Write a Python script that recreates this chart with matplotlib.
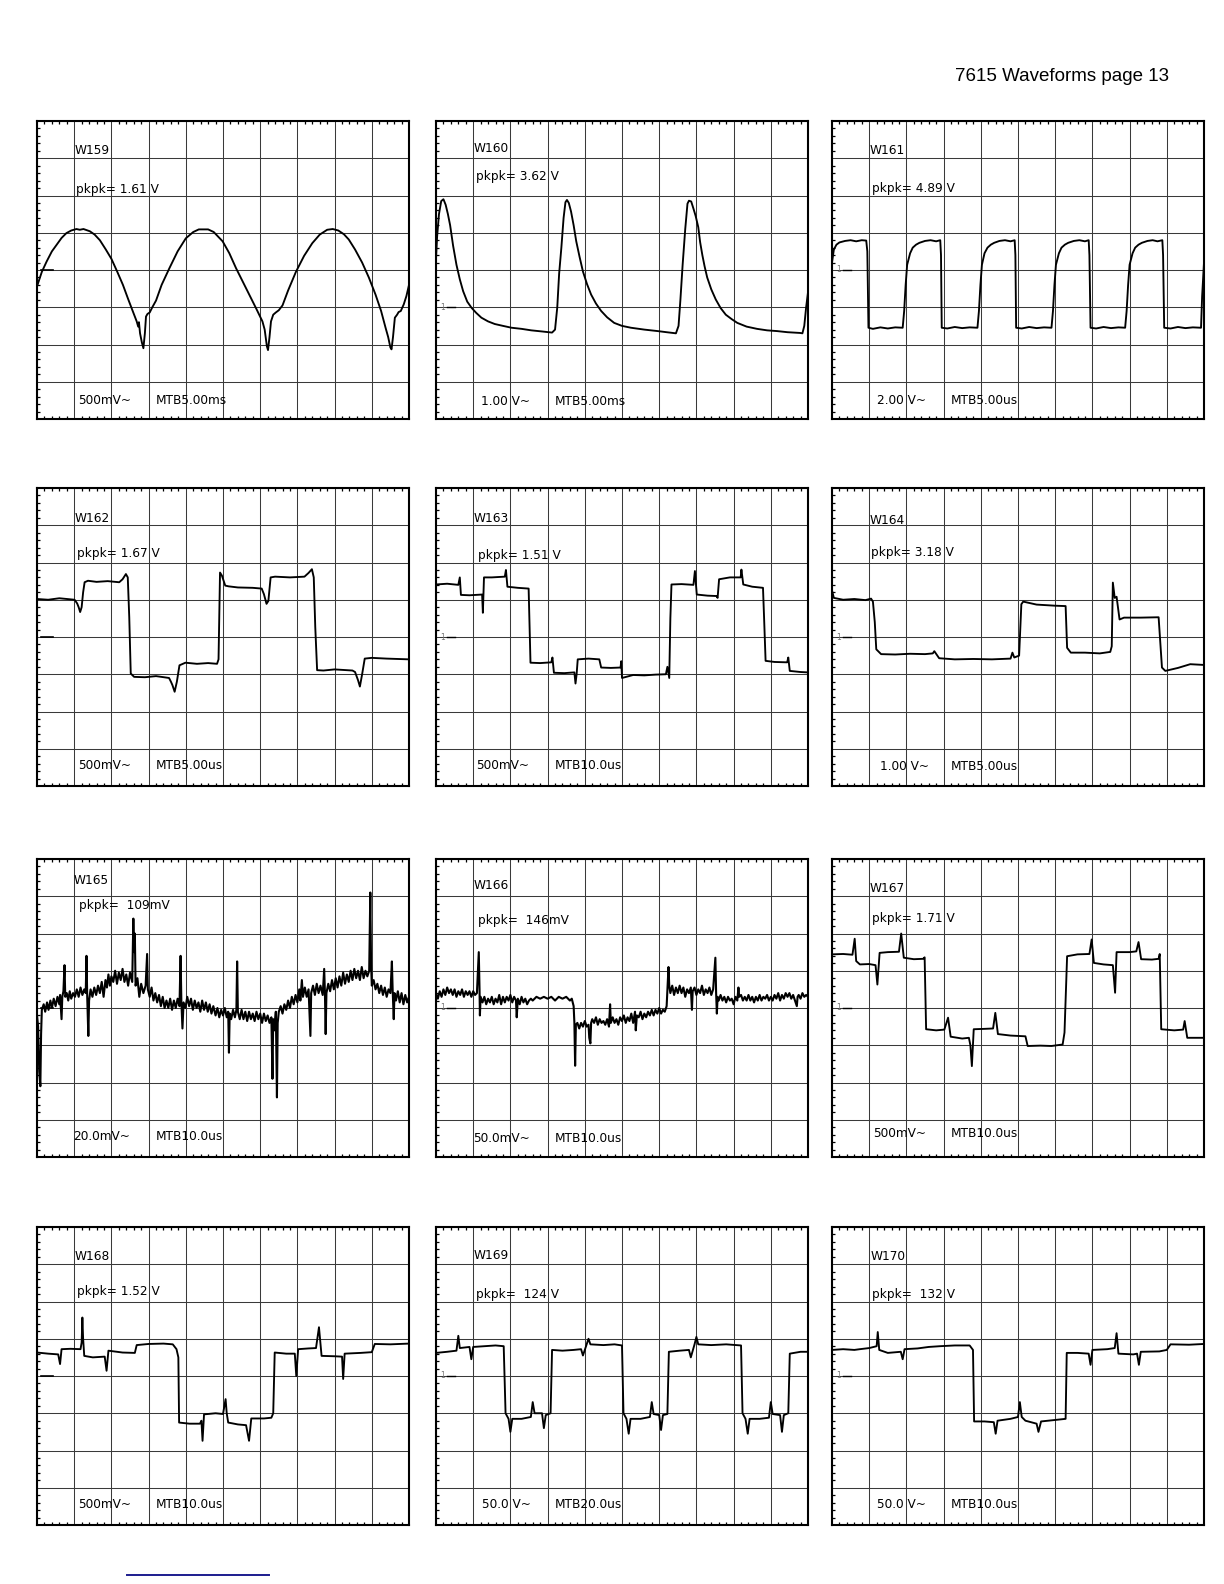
import matplotlib
matplotlib.use("Agg")
import matplotlib.pyplot as plt
from matplotlib.lines import Line2D
from matplotlib.ticker import MultipleLocator

# ---- scope captures, in screen divisions (x 0..10, y 0..8) ----
W159 = [(0, 3.56), (0.13, 3.95), (0.26, 4.23), (0.4, 4.5), (0.53, 4.68), (0.66, 4.86), (0.79, 4.99),
        (0.92, 5.06), (1.06, 5.1), (1.15, 5.08), (1.25, 5.1), (1.42, 5.04), (1.55, 4.95), (1.69, 4.8),
        (1.85, 4.55), (2.0, 4.3), (2.15, 3.97), (2.31, 3.6), (2.45, 3.22), (2.58, 2.88), (2.68, 2.62),
        (2.72, 2.48), (2.74, 2.6), (2.77, 2.3), (2.82, 2.05), (2.86, 1.9), (2.9, 2.3), (2.93, 2.75),
        (2.97, 2.82), (3.03, 2.86), (3.1, 3.0), (3.2, 3.18), (3.35, 3.6), (3.56, 4.05), (3.78, 4.5),
        (4.0, 4.85), (4.2, 5.02), (4.35, 5.09), (4.6, 5.09), (4.75, 5.02), (4.99, 4.77), (5.17, 4.45),
        (5.35, 4.05), (5.55, 3.65), (5.75, 3.25), (5.9, 2.95), (6.06, 2.62), (6.12, 2.4), (6.18, 1.95),
        (6.21, 1.85), (6.25, 2.2), (6.29, 2.62), (6.35, 2.8), (6.42, 2.86), (6.5, 2.92), (6.6, 3.05),
        (6.75, 3.45), (6.96, 3.95), (7.18, 4.38), (7.4, 4.72), (7.6, 4.95), (7.8, 5.08), (7.95, 5.1),
        (8.1, 5.06), (8.25, 4.96), (8.38, 4.82), (8.55, 4.55), (8.74, 4.2), (8.92, 3.8), (9.1, 3.34),
        (9.25, 2.9), (9.37, 2.45), (9.44, 2.2), (9.5, 1.92), (9.53, 1.87), (9.57, 2.2), (9.62, 2.72),
        (9.68, 2.8), (9.72, 2.87), (9.78, 2.9), (9.86, 3.08), (9.93, 3.3), (10.0, 3.6)]

W160 = [(0.0, 4.3), (0.03, 4.9), (0.08, 5.5), (0.14, 5.85), (0.2, 5.9), (0.26, 5.75), (0.32, 5.5),
        (0.38, 5.2), (0.46, 4.65), (0.55, 4.14), (0.64, 3.75), (0.73, 3.43), (0.84, 3.15), (0.96, 2.98),
        (1.08, 2.85), (1.22, 2.72), (1.4, 2.62), (1.58, 2.55), (1.8, 2.5), (2.03, 2.45), (2.3, 2.42),
        (2.56, 2.38), (2.85, 2.35), (3.12, 2.32), (3.2, 2.4), (3.26, 3.0), (3.31, 3.9), (3.37, 4.6),
        (3.43, 5.4), (3.48, 5.82), (3.52, 5.88), (3.57, 5.8), (3.63, 5.57), (3.7, 5.2), (3.77, 4.77),
        (3.86, 4.35), (3.95, 3.96), (4.06, 3.62), (4.17, 3.34), (4.3, 3.1), (4.44, 2.9), (4.6, 2.73),
        (4.79, 2.58), (5.0, 2.5), (5.24, 2.45), (5.6, 2.4), (5.96, 2.36), (6.2, 2.33), (6.45, 2.3),
        (6.52, 2.5), (6.57, 3.2), (6.63, 4.14), (6.7, 5.1), (6.76, 5.78), (6.8, 5.86), (6.86, 5.84),
        (6.92, 5.65), (6.98, 5.45), (7.05, 5.15), (7.1, 4.75), (7.16, 4.4), (7.22, 4.1), (7.29, 3.8),
        (7.4, 3.48), (7.52, 3.21), (7.65, 2.98), (7.79, 2.8), (7.95, 2.68), (8.1, 2.58), (8.35, 2.48),
        (8.63, 2.42), (8.9, 2.38), (9.17, 2.36), (9.45, 2.33), (9.79, 2.31), (9.85, 2.3), (9.9, 2.5),
        (9.95, 3.0), (10.0, 3.4)]

W161 = [(0, 4.2), (0.05, 4.55), (0.12, 4.68), (0.2, 4.74), (0.35, 4.78), (0.5, 4.8), (0.65, 4.77),
        (0.8, 4.8), (0.92, 4.79), (0.95, 4.5), (0.98, 2.45), (1.1, 2.42), (1.3, 2.46), (1.5, 2.43),
        (1.7, 2.46), (1.9, 2.45), (1.94, 2.9), (1.98, 3.6), (2.02, 4.14), (2.1, 4.45), (2.17, 4.6),
        (2.26, 4.68), (2.35, 4.73), (2.5, 4.78), (2.65, 4.8), (2.8, 4.77), (2.91, 4.8), (2.93, 4.4),
        (2.95, 2.45), (3.1, 2.43), (3.3, 2.47), (3.5, 2.44), (3.7, 2.46), (3.91, 2.45), (3.95, 2.9),
        (3.99, 3.6), (4.03, 4.14), (4.1, 4.45), (4.18, 4.6), (4.27, 4.68), (4.36, 4.73), (4.5, 4.78),
        (4.65, 4.8), (4.8, 4.77), (4.91, 4.8), (4.93, 4.4), (4.95, 2.45), (5.1, 2.43), (5.3, 2.47),
        (5.5, 2.44), (5.7, 2.46), (5.9, 2.45), (5.94, 2.9), (5.98, 3.6), (6.02, 4.14), (6.1, 4.45),
        (6.17, 4.6), (6.26, 4.68), (6.35, 4.73), (6.5, 4.78), (6.65, 4.8), (6.8, 4.77), (6.9, 4.8),
        (6.92, 4.4), (6.95, 2.45), (7.1, 2.43), (7.3, 2.47), (7.5, 2.44), (7.7, 2.46), (7.88, 2.45),
        (7.92, 2.9), (7.96, 3.6), (8.0, 4.14), (8.08, 4.45), (8.15, 4.6), (8.24, 4.68), (8.33, 4.73),
        (8.48, 4.78), (8.62, 4.8), (8.75, 4.77), (8.88, 4.8), (8.9, 4.4), (8.93, 2.45), (9.1, 2.43),
        (9.3, 2.47), (9.5, 2.44), (9.7, 2.46), (9.92, 2.45), (9.95, 3.3), (10.0, 4.2)]

W162 = [(0, 5.02), (0.3, 5.0), (0.6, 5.04), (1.01, 5.0), (1.08, 4.9), (1.12, 4.8), (1.16, 4.67),
        (1.2, 4.8), (1.24, 5.2), (1.28, 5.47), (1.37, 5.51), (1.6, 5.48), (1.9, 5.5), (2.21, 5.47),
        (2.3, 5.55), (2.39, 5.69), (2.44, 5.6), (2.48, 4.53), (2.52, 3.02), (2.61, 2.93), (2.9, 2.92),
        (3.2, 2.95), (3.55, 2.9), (3.6, 2.8), (3.64, 2.71), (3.7, 2.53), (3.76, 2.8), (3.83, 3.24),
        (3.99, 3.31), (4.3, 3.28), (4.6, 3.3), (4.84, 3.28), (4.88, 3.4), (4.92, 5.73), (4.97, 5.65),
        (5.06, 5.38), (5.15, 5.36), (5.4, 5.33), (5.8, 5.32), (6.04, 5.3), (6.1, 5.15), (6.17, 4.89),
        (6.22, 4.97), (6.28, 5.6), (6.4, 5.62), (6.8, 5.6), (7.19, 5.62), (7.3, 5.72), (7.39, 5.82),
        (7.44, 5.6), (7.48, 4.27), (7.53, 3.11), (7.7, 3.1), (8.0, 3.13), (8.48, 3.1), (8.55, 3.06),
        (8.63, 2.84), (8.68, 2.67), (8.74, 3.0), (8.81, 3.42), (9.0, 3.44), (9.4, 3.42), (10.0, 3.4)]

W163 = [(0, 5.41), (0.3, 5.43), (0.6, 5.4), (0.64, 5.6), (0.67, 5.13), (0.9, 5.12), (1.24, 5.14),
        (1.26, 4.65), (1.29, 5.6), (1.5, 5.6), (1.85, 5.62), (1.88, 5.8), (1.92, 5.35), (2.2, 5.32),
        (2.49, 5.3), (2.54, 3.31), (2.8, 3.3), (3.1, 3.32), (3.13, 3.45), (3.17, 3.04), (3.45, 3.03),
        (3.72, 3.05), (3.75, 2.75), (3.78, 3.0), (3.81, 3.4), (4.1, 3.42), (4.39, 3.4), (4.44, 3.18),
        (4.7, 3.17), (4.96, 3.18), (4.98, 3.35), (5.0, 2.9), (5.3, 2.98), (5.6, 2.97), (5.9, 2.99),
        (6.18, 3.0), (6.22, 3.2), (6.27, 2.9), (6.3, 4.5), (6.33, 5.41), (6.6, 5.42), (6.92, 5.4),
        (6.96, 5.77), (7.01, 5.14), (7.3, 5.11), (7.54, 5.1), (7.57, 5.05), (7.61, 5.55), (7.9, 5.6),
        (8.19, 5.6), (8.21, 5.81), (8.26, 5.41), (8.5, 5.35), (8.79, 5.32), (8.82, 4.5), (8.86, 3.36),
        (9.1, 3.33), (9.44, 3.32), (9.47, 3.45), (9.51, 3.09), (9.8, 3.06), (10.0, 3.05)]

W164 = [(0, 5.25), (0.05, 5.05), (0.3, 5.0), (0.6, 5.02), (0.9, 4.99), (1.05, 5.03), (1.1, 4.95),
        (1.15, 4.4), (1.19, 3.67), (1.32, 3.54), (1.7, 3.53), (2.1, 3.55), (2.5, 3.54), (2.71, 3.56),
        (2.75, 3.62), (2.88, 3.43), (3.3, 3.4), (3.8, 3.41), (4.3, 3.4), (4.8, 3.42), (4.85, 3.58),
        (4.9, 3.45), (5.03, 3.5), (5.09, 4.88), (5.14, 4.95), (5.5, 4.87), (6.0, 4.84), (6.28, 4.83),
        (6.32, 3.71), (6.42, 3.58), (6.8, 3.58), (7.2, 3.56), (7.48, 3.6), (7.52, 3.75), (7.55, 5.46),
        (7.6, 5.05), (7.65, 5.08), (7.73, 4.47), (7.85, 4.52), (8.3, 4.52), (8.78, 4.53), (8.87, 3.18),
        (8.96, 3.09), (9.3, 3.17), (9.63, 3.27), (10.0, 3.25)]

W165 = [(0.00, 3.80), (0.03, 3.5), (0.06, 2.3), (0.09, 1.9), (0.11, 3.3), (0.13, 3.95), (0.18, 4.1),
        (0.22, 3.9), (0.27, 4.15), (0.31, 3.95), (0.36, 4.2), (0.40, 4.0), (0.45, 4.25), (0.50, 4.05),
        (0.55, 4.3), (0.60, 4.1), (0.62, 4.35), (0.66, 3.7), (0.68, 4.3), (0.71, 4.45), (0.74, 5.15),
        (0.76, 4.3), (0.80, 4.4), (0.84, 4.2), (0.88, 4.45), (0.92, 4.25), (0.97, 4.4), (1.02, 4.3),
        (1.07, 4.5), (1.12, 4.3), (1.17, 4.55), (1.22, 4.35), (1.27, 4.5), (1.31, 4.4), (1.33, 5.4),
        (1.35, 4.3), (1.38, 3.25), (1.40, 4.2), (1.44, 4.5), (1.49, 4.3), (1.54, 4.55), (1.59, 4.35),
        (1.64, 4.6), (1.69, 4.4), (1.74, 4.7), (1.79, 4.3), (1.84, 4.75), (1.88, 4.55), (1.92, 4.9),
        (1.96, 4.6), (2.0, 4.85), (2.05, 4.7), (2.10, 5.0), (2.15, 4.65), (2.2, 4.95), (2.25, 4.75),
        (2.3, 5.05), (2.35, 4.7), (2.4, 4.9), (2.45, 4.6), (2.5, 4.95), (2.56, 4.7), (2.59, 6.4),
        (2.61, 5.5), (2.63, 6.0), (2.65, 4.6), (2.7, 4.8), (2.75, 4.3), (2.8, 4.65), (2.86, 4.4),
        (2.92, 4.6), (2.96, 5.45), (2.98, 4.5), (3.03, 4.3), (3.08, 4.55), (3.13, 4.2), (3.18, 4.4),
        (3.23, 4.15), (3.28, 4.35), (3.33, 4.05), (3.38, 4.3), (3.43, 4.0), (3.48, 4.2), (3.53, 4.0),
        (3.58, 4.25), (3.63, 3.95), (3.68, 4.2), (3.73, 4.0), (3.78, 4.25), (3.83, 4.05), (3.86, 5.4),
        (3.88, 4.2), (3.91, 3.45), (3.94, 4.15), (3.99, 4.0), (4.04, 4.3), (4.09, 4.05), (4.14, 4.25),
        (4.19, 3.95), (4.24, 4.2), (4.29, 4.0), (4.34, 4.15), (4.39, 3.9), (4.44, 4.2), (4.49, 3.95),
        (4.54, 4.15), (4.59, 3.9), (4.64, 4.1), (4.69, 3.85), (4.74, 4.05), (4.8, 3.8), (4.85, 4.0),
        (4.9, 3.75), (4.95, 3.95), (5.0, 3.8), (5.05, 4.0), (5.1, 3.75), (5.14, 3.9), (5.16, 2.8),
        (5.18, 3.85), (5.22, 3.7), (5.27, 3.95), (5.32, 3.75), (5.36, 3.95), (5.38, 5.25), (5.40, 3.9),
        (5.45, 3.7), (5.5, 3.95), (5.55, 3.7), (5.6, 3.9), (5.65, 3.65), (5.7, 3.9), (5.75, 3.7),
        (5.8, 3.85), (5.85, 3.65), (5.9, 3.9), (5.95, 3.7), (6.0, 3.85), (6.05, 3.6), (6.1, 3.85),
        (6.15, 3.65), (6.2, 3.8), (6.25, 3.6), (6.3, 3.75), (6.33, 2.1), (6.35, 3.7), (6.38, 3.4),
        (6.42, 3.9), (6.45, 1.6), (6.47, 3.6), (6.5, 3.9), (6.55, 4.05), (6.6, 3.85), (6.65, 4.1),
        (6.7, 3.95), (6.75, 4.2), (6.8, 4.0), (6.85, 4.3), (6.9, 4.1), (6.95, 4.35), (7.0, 4.15),
        (7.05, 4.5), (7.08, 4.2), (7.12, 4.75), (7.15, 4.3), (7.2, 4.55), (7.25, 4.3), (7.3, 4.5),
        (7.35, 3.25), (7.37, 4.4), (7.42, 4.6), (7.47, 4.35), (7.52, 4.65), (7.57, 4.4), (7.62, 4.6),
        (7.68, 4.35), (7.72, 5.05), (7.74, 4.4), (7.76, 3.3), (7.78, 4.4), (7.83, 4.65), (7.88, 4.45),
        (7.93, 4.75), (7.98, 4.5), (8.03, 4.8), (8.08, 4.55), (8.13, 4.85), (8.18, 4.6), (8.23, 4.95),
        (8.28, 4.65), (8.33, 4.9), (8.38, 4.7), (8.43, 5.0), (8.48, 4.75), (8.53, 5.05), (8.58, 4.8),
        (8.63, 5.0), (8.68, 4.75), (8.73, 5.1), (8.78, 4.8), (8.83, 5.0), (8.88, 4.85), (8.93, 5.0),
        (8.96, 7.1), (8.98, 5.2), (9.0, 4.6), (9.05, 4.75), (9.1, 4.5), (9.15, 4.65), (9.2, 4.4),
        (9.25, 4.6), (9.3, 4.35), (9.35, 4.55), (9.4, 4.3), (9.45, 4.5), (9.5, 4.4), (9.54, 5.25),
        (9.56, 4.5), (9.59, 3.7), (9.61, 4.4), (9.65, 4.2), (9.7, 4.45), (9.75, 4.15), (9.8, 4.4),
        (9.85, 4.1), (9.9, 4.35), (9.95, 4.15), (10.0, 4.3)]

W166 = [(0, 4.4), (0.05, 4.25), (0.1, 4.45), (0.15, 4.3), (0.2, 4.5), (0.25, 4.35), (0.3, 4.55),
        (0.35, 4.4), (0.4, 4.5), (0.45, 4.35), (0.5, 4.5), (0.55, 4.3), (0.6, 4.45), (0.65, 4.35),
        (0.7, 4.5), (0.75, 4.3), (0.8, 4.45), (0.85, 4.35), (0.9, 4.45), (0.95, 4.3), (1.0, 4.45),
        (1.05, 4.35), (1.1, 4.4), (1.15, 5.5), (1.17, 4.5), (1.18, 3.8), (1.2, 4.3), (1.25, 4.15),
        (1.3, 4.3), (1.35, 4.1), (1.4, 4.25), (1.45, 4.15), (1.5, 4.3), (1.55, 4.1), (1.6, 4.25),
        (1.65, 4.15), (1.7, 4.35), (1.75, 4.1), (1.8, 4.3), (1.85, 4.15), (1.9, 4.3), (1.95, 4.2),
        (2.0, 4.35), (2.05, 4.15), (2.1, 4.3), (2.15, 4.2), (2.17, 3.75), (2.2, 4.25), (2.25, 4.1),
        (2.3, 4.3), (2.35, 4.15), (2.4, 4.25), (2.45, 4.1), (2.5, 4.2), (2.55, 4.25), (2.6, 4.2),
        (2.7, 4.3), (2.8, 4.25), (2.9, 4.3), (3.0, 4.25), (3.1, 4.3), (3.2, 4.2), (3.3, 4.3),
        (3.4, 4.25), (3.5, 4.3), (3.6, 4.2), (3.65, 4.25), (3.7, 4.05), (3.72, 3.6), (3.74, 2.45),
        (3.76, 3.55), (3.8, 3.6), (3.85, 3.45), (3.9, 3.6), (3.95, 3.5), (4.0, 3.65), (4.05, 3.5),
        (4.1, 3.55), (4.12, 3.2), (4.15, 3.05), (4.17, 3.6), (4.2, 3.7), (4.25, 3.6), (4.3, 3.75),
        (4.35, 3.55), (4.4, 3.7), (4.45, 3.6), (4.5, 3.65), (4.55, 3.55), (4.6, 3.7), (4.65, 3.5),
        (4.68, 4.1), (4.7, 3.6), (4.75, 3.75), (4.8, 3.6), (4.85, 3.7), (4.9, 3.55), (4.95, 3.75),
        (5.0, 3.65), (5.05, 3.8), (5.1, 3.6), (5.15, 3.75), (5.2, 3.65), (5.25, 3.85), (5.3, 3.6),
        (5.35, 3.9), (5.37, 3.4), (5.4, 3.8), (5.45, 3.75), (5.5, 3.9), (5.55, 3.7), (5.6, 3.85),
        (5.65, 3.75), (5.7, 3.9), (5.75, 3.8), (5.8, 3.95), (5.85, 3.8), (5.9, 3.95), (5.95, 3.85),
        (6.0, 4.0), (6.05, 3.85), (6.1, 3.95), (6.15, 3.9), (6.2, 4.05), (6.22, 4.45), (6.25, 5.1),
        (6.27, 4.6), (6.3, 4.4), (6.35, 4.6), (6.4, 4.35), (6.45, 4.55), (6.5, 4.4), (6.55, 4.6),
        (6.6, 4.4), (6.65, 4.55), (6.7, 4.3), (6.75, 4.5), (6.8, 4.4), (6.85, 4.55), (6.88, 3.95),
        (6.9, 4.45), (6.95, 4.55), (7.0, 4.35), (7.05, 4.5), (7.1, 4.4), (7.15, 4.6), (7.2, 4.35),
        (7.25, 4.5), (7.3, 4.4), (7.35, 4.55), (7.4, 4.35), (7.45, 4.5), (7.51, 5.35), (7.53, 4.4),
        (7.55, 3.85), (7.57, 4.3), (7.6, 4.2), (7.65, 4.35), (7.7, 4.2), (7.75, 4.3), (7.8, 4.15),
        (7.85, 4.3), (7.9, 4.2), (7.95, 4.25), (8.0, 4.1), (8.05, 4.3), (8.1, 4.2), (8.13, 4.55),
        (8.15, 4.3), (8.2, 4.35), (8.25, 4.2), (8.3, 4.3), (8.35, 4.2), (8.4, 4.35), (8.45, 4.2),
        (8.5, 4.3), (8.55, 4.15), (8.6, 4.3), (8.65, 4.2), (8.7, 4.35), (8.75, 4.2), (8.8, 4.3),
        (8.85, 4.25), (8.9, 4.35), (8.95, 4.2), (9.0, 4.3), (9.05, 4.2), (9.1, 4.35), (9.15, 4.25),
        (9.2, 4.4), (9.25, 4.2), (9.3, 4.35), (9.35, 4.25), (9.4, 4.4), (9.45, 4.3), (9.5, 4.4),
        (9.55, 4.25), (9.6, 4.35), (9.65, 4.2), (9.7, 4.05), (9.72, 4.3), (9.75, 4.35), (9.8, 4.25),
        (9.85, 4.4), (9.9, 4.3), (9.95, 4.35), (10.0, 4.3)]

W167 = [(0, 5.44), (0.3, 5.45), (0.55, 5.43), (0.61, 5.86), (0.65, 5.26), (0.75, 5.17), (1.0, 5.18),
        (1.17, 5.15), (1.22, 4.63), (1.28, 5.48), (1.5, 5.5), (1.8, 5.51), (1.86, 6.0), (1.93, 5.35),
        (2.2, 5.31), (2.45, 5.32), (2.49, 5.36), (2.53, 3.43), (2.8, 3.4), (3.02, 3.42), (3.12, 3.74),
        (3.19, 3.23), (3.5, 3.18), (3.68, 3.2), (3.72, 3.0), (3.76, 2.44), (3.81, 3.43), (4.1, 3.44),
        (4.33, 3.45), (4.39, 3.87), (4.46, 3.3), (4.8, 3.26), (5.2, 3.24), (5.26, 2.98), (5.6, 2.99),
        (5.9, 2.98), (6.2, 3.02), (6.25, 3.34), (6.32, 5.39), (6.6, 5.44), (6.92, 5.45), (6.98, 5.84),
        (7.04, 5.21), (7.3, 5.17), (7.55, 5.15), (7.61, 4.41), (7.65, 5.5), (8.0, 5.5), (8.18, 5.52),
        (8.24, 5.77), (8.31, 5.31), (8.6, 5.3), (8.78, 5.32), (8.81, 5.45), (8.85, 3.43), (9.2, 3.4),
        (9.44, 3.42), (9.48, 3.65), (9.55, 3.2), (10.0, 3.2)]

W168 = [(0, 4.63), (0.3, 4.6), (0.57, 4.58), (0.62, 4.32), (0.66, 4.72), (0.9, 4.73), (1.17, 4.72),
        (1.2, 4.9), (1.22, 5.57), (1.24, 5.0), (1.27, 4.54), (1.5, 4.5), (1.82, 4.52), (1.87, 4.14),
        (1.92, 4.68), (2.3, 4.63), (2.63, 4.62), (2.68, 4.83), (3.0, 4.86), (3.4, 4.87), (3.65, 4.85),
        (3.75, 4.72), (3.8, 4.5), (3.82, 2.75), (4.1, 2.72), (4.38, 2.72), (4.42, 2.8), (4.45, 2.26),
        (4.49, 2.97), (4.8, 3.0), (5.0, 2.98), (5.07, 3.38), (5.1, 3.0), (5.14, 2.75), (5.4, 2.7),
        (5.62, 2.68), (5.7, 2.26), (5.76, 2.86), (6.1, 2.86), (6.3, 2.88), (6.35, 3.0), (6.39, 4.63),
        (6.7, 4.6), (6.93, 4.6), (6.97, 4.0), (7.02, 4.72), (7.3, 4.74), (7.5, 4.75), (7.58, 5.31),
        (7.65, 4.54), (8.0, 4.53), (8.2, 4.52), (8.23, 3.92), (8.27, 4.6), (8.7, 4.62), (9.0, 4.64),
        (9.08, 4.86), (9.5, 4.85), (10.0, 4.87)]

W169 = [(0, 4.62), (0.3, 4.65), (0.55, 4.68), (0.6, 5.08), (0.64, 4.75), (0.9, 4.78), (0.95, 4.45),
        (1.0, 4.78), (1.3, 4.8), (1.6, 4.82), (1.82, 4.8), (1.87, 3.0), (1.95, 2.85), (2.0, 2.5),
        (2.05, 2.85), (2.3, 2.85), (2.55, 2.9), (2.6, 3.3), (2.65, 3.0), (2.85, 3.0), (2.9, 2.6),
        (2.95, 2.95), (3.08, 3.0), (3.12, 4.7), (3.4, 4.68), (3.7, 4.7), (3.9, 4.72), (3.95, 4.55),
        (4.05, 4.85), (4.1, 5.0), (4.15, 4.85), (4.5, 4.83), (4.8, 4.85), (5.0, 4.82), (5.04, 3.0),
        (5.12, 2.85), (5.18, 2.45), (5.23, 2.85), (5.5, 2.85), (5.75, 2.9), (5.8, 3.3), (5.85, 2.98),
        (6.0, 2.95), (6.05, 2.55), (6.1, 2.95), (6.22, 2.98), (6.26, 4.65), (6.55, 4.68), (6.8, 4.7),
        (6.85, 4.5), (6.95, 4.85), (7.0, 5.05), (7.05, 4.85), (7.4, 4.83), (7.8, 4.85), (8.2, 4.82),
        (8.24, 3.0), (8.32, 2.85), (8.38, 2.45), (8.43, 2.85), (8.7, 2.85), (8.95, 2.88), (9.0, 3.3),
        (9.05, 2.98), (9.25, 2.95), (9.3, 2.5), (9.35, 2.95), (9.47, 3.0), (9.51, 4.6), (9.8, 4.65),
        (10.0, 4.65)]

W170 = [(0, 4.7), (0.3, 4.72), (0.6, 4.7), (0.75, 4.72), (1.0, 4.75), (1.2, 4.8), (1.23, 5.18),
        (1.27, 4.7), (1.5, 4.62), (1.85, 4.65), (1.9, 4.45), (1.95, 4.72), (2.3, 4.74), (2.6, 4.78),
        (2.9, 4.8), (3.3, 4.82), (3.7, 4.82), (3.79, 4.7), (3.82, 2.78), (4.1, 2.78), (4.35, 2.76),
        (4.4, 2.45), (4.45, 2.8), (4.8, 2.85), (5.0, 2.9), (5.05, 3.3), (5.1, 2.9), (5.2, 2.8),
        (5.5, 2.72), (5.55, 2.5), (5.62, 2.78), (6.0, 2.82), (6.28, 2.85), (6.31, 4.62), (6.6, 4.62),
        (6.9, 4.6), (6.95, 4.3), (7.0, 4.7), (7.4, 4.72), (7.6, 4.75), (7.65, 5.15), (7.7, 4.6),
        (8.1, 4.58), (8.2, 4.6), (8.25, 4.3), (8.3, 4.65), (8.8, 4.66), (9.0, 4.7), (9.1, 4.85),
        (9.6, 4.84), (10.0, 4.86)]

TRACES = [W159, W160, W161, W162, W163, W164, W165, W166, W167, W168, W169, W170]
NAMES = ["W159", "W160", "W161", "W162", "W163", "W164",
         "W165", "W166", "W167", "W168", "W169", "W170"]
PKPK = ["pkpk= 1.61 V", "pkpk= 3.62 V", "pkpk= 4.89 V", "pkpk= 1.67 V", "pkpk= 1.51 V",
        "pkpk= 3.18 V", "pkpk=  109mV", "pkpk=  146mV", "pkpk= 1.71 V", "pkpk= 1.52 V",
        "pkpk=  124 V", "pkpk=  132 V"]
VSCALE = ["500mV~", "1.00 V~", "2.00 V~", "500mV~", "500mV~", "1.00 V~",
          "20.0mV~", "50.0mV~", "500mV~", "500mV~", "50.0 V~", "50.0 V~"]
TIMEBASE = ["MTB5.00ms", "MTB5.00ms", "MTB5.00us", "MTB5.00us", "MTB10.0us", "MTB5.00us",
            "MTB10.0us", "MTB10.0us", "MTB10.0us", "MTB10.0us", "MTB20.0us", "MTB10.0us"]
GROUND = [4, 3, 4, 4, 4, 4, 4, 4, 4, 4, 4, 4]

# text placement inside each screen (divisions): name, pkpk, scale, timebase y
NAME_XY = [(1.02, 7.22), (1.02, 7.25), (1.02, 7.2), (1.02, 7.17), (1.02, 7.17), (1.02, 7.14),
           (0.99, 7.41), (1.02, 7.3), (1.02, 7.22), (1.02, 7.22), (1.0, 7.24), (1.03, 7.22)]
PKPK_XY = [(1.05, 6.17), (1.07, 6.5), (1.07, 6.2), (1.07, 6.23), (1.13, 6.2), (1.05, 6.28),
           (1.13, 6.74), (1.13, 6.36), (1.07, 6.4), (1.07, 6.28), (1.07, 6.2), (1.08, 6.2)]
SCALE_X = [1.1, 1.2, 1.2, 1.1, 1.08, 1.3, 0.97, 1.0, 1.1, 1.1, 1.24, 1.2]
BOTTOM_Y = [0.5, 0.46, 0.5, 0.55, 0.55, 0.52, 0.56, 0.5, 0.63, 0.56, 0.54, 0.56]
SHOW_ONE = [False, True, True, False, True, True, False, True, True, False, True, True]

W, H = 1224, 1584
COL_LEFT = [37, 436, 832]
ROW_TOP = [121, 488, 859, 1227]
PW, PH = 372, 298

fig = plt.figure(figsize=(W / 100, H / 100), dpi=100)
fig.patch.set_facecolor("white")

fig.text(1169 / W, 1 - 81 / H, "7615 Waveforms page 13", ha="right", va="baseline",
         fontsize=13.5, family="Liberation Sans")
fig.add_artist(Line2D([127 / W, 269 / W], [1 - 1575 / H] * 2, color="#1c1c8e", lw=1.4))

font = dict(family="DejaVu Sans", fontsize=8.7, color="black")

for i, trace in enumerate(TRACES):
    r, c = divmod(i, 3)
    ax = fig.add_axes([COL_LEFT[c] / W, 1 - (ROW_TOP[r] + PH) / H, PW / W, PH / H])
    ax.set_xlim(0, 10)
    ax.set_ylim(0, 8)
    ax.xaxis.set_major_locator(MultipleLocator(1))
    ax.yaxis.set_major_locator(MultipleLocator(1))
    ax.xaxis.set_minor_locator(MultipleLocator(0.2))
    ax.yaxis.set_minor_locator(MultipleLocator(0.2))
    ax.grid(True, which="major", color="#3a3a3a", lw=0.75)
    ax.tick_params(which="both", direction="in", left=True, bottom=True, top=True, right=False,
                   labelleft=False, labelbottom=False)
    ax.tick_params(which="major", length=0)
    ax.tick_params(which="minor", length=2.2, width=0.9, color="black")
    for sp in ax.spines.values():
        sp.set_linewidth(1.5)
        sp.set_color("black")

    xs = [p[0] for p in trace]
    ys = [p[1] for p in trace]
    lw = 1.5 if NAMES[i] in ("W165", "W166") else 1.35
    ax.plot(xs, ys, color="black", lw=lw, solid_joinstyle="round", clip_on=True, zorder=3)

    # ground reference marker
    g = GROUND[i]
    if SHOW_ONE[i]:
        ax.text(0.1, g, "1", fontsize=5.5, color="#777777", va="center", ha="left",
                family="DejaVu Sans")
        ax.plot([0.3, 0.52], [g, g], color="black", lw=1.0)
    else:
        ax.plot([0.12, 0.42], [g, g], color="black", lw=1.2)

    ax.text(NAME_XY[i][0], NAME_XY[i][1], NAMES[i], va="center", ha="left", **font)
    ax.text(PKPK_XY[i][0], PKPK_XY[i][1], PKPK[i], va="center", ha="left", **font)
    ax.text(SCALE_X[i], BOTTOM_Y[i], VSCALE[i], va="center", ha="left", **font)
    ax.text(3.18, BOTTOM_Y[i], TIMEBASE[i], va="center", ha="left", **font)

fig.savefig("out.png", dpi=100, facecolor="white")
